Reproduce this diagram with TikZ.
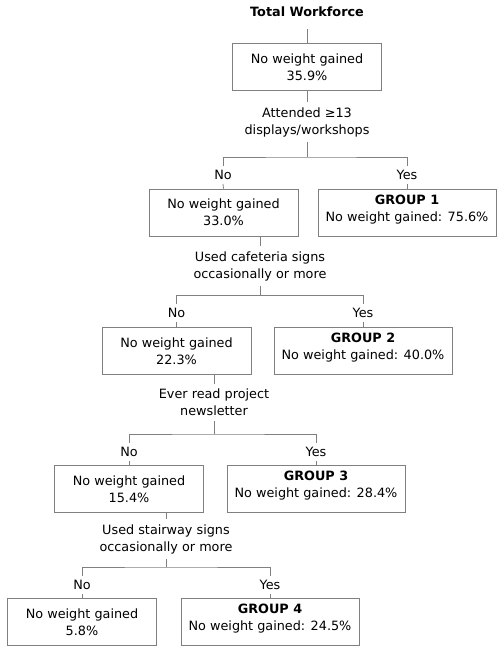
\documentclass[tikz,border=0pt]{standalone}
\usepackage{fontspec}
\setmainfont{DejaVu Sans}
\newcommand{\treefont}{\fontsize{12.8}{17}\selectfont}
\begin{document}
\begin{tikzpicture}[x=1pt, y=-1pt, font=\treefont,
    box/.style={draw=black!50, line width=0.8pt, minimum width=149pt,
        minimum height=47pt, inner sep=2pt, align=center},
    groupbox/.style={box, minimum width=178pt, text depth=9pt},
    ask/.style={align=center, inner xsep=2pt, inner ysep=5pt},
    answer/.style={inner xsep=2pt, inner ysep=4pt, text height=9.3pt, text depth=0pt},
    link/.style={draw=black!50, line width=0.8pt}]
\useasboundingbox (0,0) rectangle (502,653);

% Livello 0: radice
\node[font=\treefont\bfseries] (top) at (307,12) {Total Workforce};
\node[box] (b0) at (307,67) {No weight gained\\35.9\%};
\node[ask] (q1) at (307,122) {Attended ≥13\\displays/workshops};
\coordinate (j1) at (307,157);

% Livello 1
\node[answer] (no1) at (223,175) {No};
\node[answer] (yes1) at (407,175) {Yes};
\node[box] (b1) at (223.5,212.5) {No weight gained\\33.0\%};
\node[groupbox] (g1) at (407,212.5) {\textbf{GROUP 1}\\No weight gained: 75.6\%};
\node[ask] (q2) at (260,266) {Used cafeteria signs\\occasionally or more};
\coordinate (j2) at (260,295.5);

% Livello 2
\node[answer] (no2) at (176.5,313) {No};
\node[answer] (yes2) at (363,313) {Yes};
\node[box] (b2) at (176.5,351) {No weight gained\\22.3\%};
\node[groupbox] (g2) at (363,351) {\textbf{GROUP 2}\\No weight gained: 40.0\%};
\node[ask] (q3) at (214,402.5) {Ever read project\\newsletter};
\coordinate (j3) at (214,434);

% Livello 3
\node[answer] (no3) at (129,452) {No};
\node[answer] (yes3) at (316,452) {Yes};
\node[box] (b3) at (129,489) {No weight gained\\15.4\%};
\node[groupbox] (g3) at (316,489) {\textbf{GROUP 3}\\No weight gained: 28.4\%};
\node[ask] (q4) at (166,539) {Used stairway signs\\occasionally or more};
\coordinate (j4) at (166,567);

% Livello 4
\node[answer] (no4) at (82,585) {No};
\node[answer] (yes4) at (270,585) {Yes};
\node[box] (b4) at (82,622) {No weight gained\\5.8\%};
\node[groupbox] (g4) at (270,622) {\textbf{GROUP 4}\\No weight gained: 24.5\%};

% connettori
\draw[link, shorten <=9pt] (top.south) -- (b0.north);
\draw[link] (b0.south) -- (q1.north);
\draw[link] (q1.south) -- (j1);
\draw[link] (no1.north) |- (j1) -| (yes1.north);
\draw[link] (no1.south) -- (b1.north);
\draw[link] (yes1.south) -- (g1.north);
\draw[link] (b1.south -| q2.north) -- (q2.north);
\draw[link] (q2.south) -- (j2);
\draw[link] (no2.north) |- (j2) -| (yes2.north);
\draw[link] (no2.south) -- (b2.north);
\draw[link] (yes2.south) -- (g2.north);
\draw[link] (b2.south -| q3.north) -- (q3.north);
\draw[link] (q3.south) -- (j3);
\draw[link] (no3.north) |- (j3) -| (yes3.north);
\draw[link] (no3.south) -- (b3.north);
\draw[link] (yes3.south) -- (g3.north);
\draw[link] (b3.south -| q4.north) -- (q4.north);
\draw[link] (q4.south) -- (j4);
\draw[link] (no4.north) |- (j4) -| (yes4.north);
\draw[link] (no4.south) -- (b4.north);
\draw[link] (yes4.south) -- (g4.north);
\end{tikzpicture}
\end{document}
